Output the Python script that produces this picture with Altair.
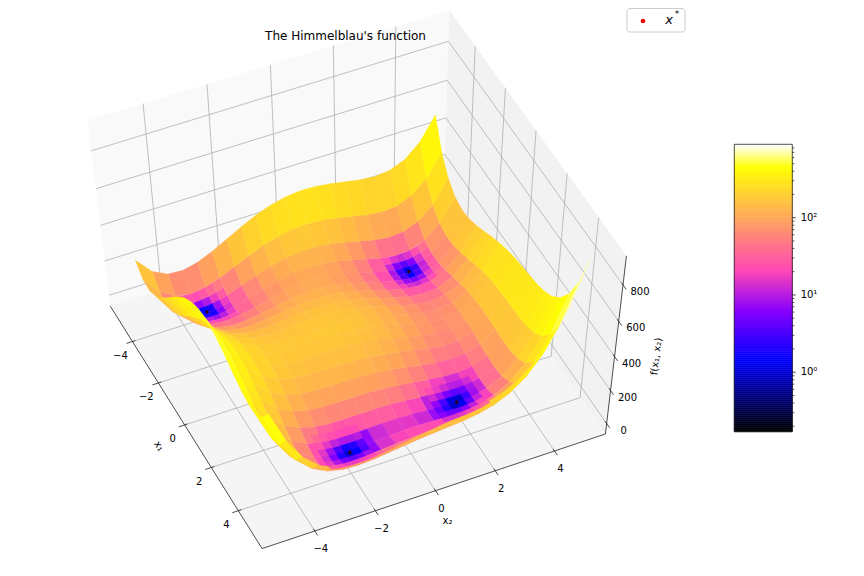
import numpy as np
import pandas as pd
import altair as alt

# ---------- values read for the surface (rows: x1 = -5..5, columns: x2 = -5..5, step 0.5)
grid_axis = [-5, -4.5, -4, -3.5, -3, -2.5, -2, -1.5, -1, -0.5, 0, 0.5, 1, 1.5, 2, 2.5, 3, 3.5, 4, 4.5, 5]
Z = [
 [250,158.3,116,110.3,130,165.3,208,251.3,290,320.3,340,348.3,346,335.3,320,305.3,298,306.3,340,410.3,530],
 [200.3,99.1,47.8,33.6,45.3,73.1,108.8,145.6,178.3,203.1,217.8,221.6,215.3,201.1,182.8,165.6,156.3,163.1,195.8,265.6,385.3],
 [196,85.8,26,3.8,8,28.8,58,88.8,116,135.8,146,145.8,136,118.8,98,78.8,68,73.8,106,175.8,296],
 [224.3,105.6,37.8,8.1,5.3,19.6,42.8,68.1,90.3,105.6,111.8,108.1,95.3,75.6,52.8,32.1,20.3,25.6,57.8,128.1,249.3],
 [274,147.3,72,35.3,26,34.3,52,72.3,90,101.3,104,97.3,82,60.3,36,14.3,2,7.3,40,111.3,234],
 [335.3,201.1,118.8,75.6,60.3,63.1,75.8,91.6,105.3,113.1,112.8,103.6,86.3,63.1,37.8,15.6,3.3,9.1,42.8,115.6,240.3],
 [400,258.8,170,120.8,100,97.8,106,117.8,128,132.8,130,118.8,100,75.8,50,27.8,16,22.8,58,132.8,260],
 [461.3,313.6,218.8,164.1,138.3,131.6,135.8,144.1,151.3,153.6,148.8,136.1,116.3,91.6,65.8,44.1,33.3,41.6,78.8,156.1,286.3],
 [514,360.3,260,200.3,170,159.3,160,165.3,170,170.3,164,150.3,130,105.3,80,59.3,50,60.3,100,180.3,314],
 [554.3,395.1,289.8,225.6,191.3,177.1,174.8,177.6,180.3,179.1,171.8,157.6,137.3,113.1,88.8,69.6,62.3,75.1,117.8,201.6,339.3],
 [580,415.8,306,237.8,200,182.8,178,178.8,180,177.8,170,155.8,136,112.8,90,72.8,68,83.8,130,217.8,360],
 [590.3,421.6,307.8,236.1,195.3,175.6,168.8,168.1,168.3,165.6,157.8,144.1,125.3,103.6,82.8,68.1,66.3,85.6,135.8,228.1,375.3],
 [586,413.3,296,221.3,178,156.3,148,146.3,146,143.3,136,123.3,106,86.3,68,56.3,58,81.3,136,233.3,386],
 [569.3,393.1,272.8,195.6,150.3,127.1,117.8,115.6,115.3,113.1,106.8,95.6,80.3,63.1,47.8,39.6,45.3,73.1,132.8,235.6,394.3],
 [544,364.8,242,162.8,116,91.8,82,79.8,80,78.8,74,64.8,52,37.8,26,21.8,32,64.8,130,238.8,404],
 [515.3,333.6,208.8,128.1,80.3,55.6,45.8,44.1,45.3,45.6,42.8,36.1,26.3,15.6,7.8,8.1,23.3,61.6,132.8,248.1,420.3],
 [490,306.3,180,98.3,50,25.3,16,15.3,18,20.3,20,16.3,10,3.3,0,5.3,26,70.3,148,270.3,450],
 [476.3,291.1,163.8,81.6,33.3,9.1,0.8,1.6,6.3,11.1,13.8,13.6,11.3,9.1,10.8,21.6,48.3,99.1,183.8,313.6,501.3],
 [484,297.8,170,87.8,40,16.8,10,12.8,20,27.8,34,37.8,40,42.8,50,66.8,100,157.8,250,387.8,584],
 [524.3,337.6,209.8,128.1,81.3,59.6,54.8,60.1,70.3,81.6,91.8,100.1,107.3,115.6,128.8,152.1,192.3,257.6,357.8,504.1,709.3],
 [610,423.3,296,215.3,170,150.3,148,156.3,170,185.3,200,213.3,226,240.3,260,290.3,338,411.3,520,675.3,890],
]

# finer readings round the four minima (step 0.25)
p1_x1 = [2.25, 2.5, 2.75, 3, 3.25, 3.5, 3.75]
p1_x2 = [1.25, 1.5, 1.75, 2, 2.25, 2.5, 2.75]
p1_z = [
 [32.1,25.9,20.4,16.1,13.7,14.1,18.1],
 [20.9,15.6,11.1,7.8,6.6,8.1,13.4],
 [12.0,7.8,4.3,2.1,2.1,4.9,11.4],
 [6.5,3.3,0.9,0,1.2,5.3,13.3],
 [5.4,3.4,2.2,2.5,5.0,10.5,19.9],
 [10.0,9.1,9.2,10.8,14.7,21.6,32.5],
 [21.4,21.8,23.2,26.2,31.5,39.9,52.4],
]
p2_x1 = [-3.5, -3.25, -3, -2.75, -2.5, -2.25, -2]
p2_x2 = [2.5, 2.75, 3, 3.25, 3.5, 3.75, 4]
p2_z = [
 [32.1,24.6,20.3,20.3,25.6,37.7,57.8],
 [20.3,12.6,8.1,8.0,13.4,25.5,45.8],
 [14.3,6.5,2,1.9,7.3,19.6,40],
 [13.1,5.3,0.8,0.7,6.3,18.7,39.4],
 [15.6,7.8,3.3,3.4,9.1,21.8,42.8],
 [20.8,13.0,8.7,8.9,14.9,28.0,49.3],
 [27.8,20.1,16,16.5,22.8,36.2,58],
]
p3_x1 = [-4.5, -4.25, -4, -3.75, -3.5, -3.25, -3]
p3_x2 = [-4, -3.75, -3.5, -3.25, -3, -2.75, -2.5]
p3_z = [
 [47.8,36.8,33.6,36.9,45.3,57.8,73.1],
 [31.9,18.9,13.7,15.0,21.6,32.2,45.8],
 [26,10.9,3.8,3.3,8,16.9,28.8],
 [28.4,11.4,2.4,0.1,3.1,10.3,20.6],
 [37.8,18.9,8.1,4,5.3,10.9,19.6],
 [52.8,32.1,19.5,13.7,13.4,17.4,24.6],
 [72,49.6,35.3,27.9,26,28.5,34.3],
]
p4_x1 = [2.75, 3, 3.25, 3.5, 3.75, 4, 4.25]
p4_x2 = [-2.75, -2.5, -2.25, -2, -1.75, -1.5, -1.25]
p4_z = [
 [49.3,39.3,33,29.6,28.3,28.4,29.2],
 [35.3,25.3,19.2,16,14.9,15.3,16.5],
 [24.7,14.9,8.9,6,5.3,6,7.6],
 [18.8,9.1,3.4,0.8,0.4,1.6,3.8],
 [18.7,9.3,3.9,1.7,1.8,3.4,6.1],
 [25.9,16.8,11.8,10,10.6,12.8,16.1],
 [41.8,33.1,28.5,27.2,28.3,31.2,35.2],
]

min_x1 = [3.0, -2.805, -3.779, 3.584]
min_x2 = [2.0, 3.131, -3.283, -1.848]
min_f = [0, 0, 0, 0]

ticks_xy = [-4, -2, 0, 2, 4]
ticks_z = [0, 200, 400, 600, 800]

cmap_t = [0, 0.25, 0.42, 0.5625, 0.75, 0.92, 1]
cmap_c = ["#000000", "#0000ff", "#8700ff", "#ff49b6", "#ffa857", "#ffff00", "#ffffff"]
VMIN, VMAX = 0.17, 890.0

# ---------- view: a 3D-to-picture projection fitted on points
L, ZMIN, ZMAX = 5.73, -65.0, 955.0
fit_world = [
    (-L, -L, ZMIN), (L, -L, ZMIN), (L, L, ZMIN), (L, L, ZMAX), (-L, L, ZMAX), (-L, -L, ZMAX),
    (-4, -L, ZMIN), (-2, -L, ZMIN), (0, -L, ZMIN), (2, -L, ZMIN), (4, -L, ZMIN),
    (L, -4, ZMIN), (L, -2, ZMIN), (L, 0, ZMIN), (L, 2, ZMIN), (L, 4, ZMIN),
    (-5, 5, 530), (5, 5, 890), (-5, -5, 250),
    (-2.805, 3.131, 0), (-3.779, -3.283, 0), (3, 2, 0), (3.584, -1.848, 0),
]
fit_pix = [
    (110, 306.7), (261, 548.3), (606.7, 432.7), (629.3, 249.3), (449, 9.3), (89, 117.7),
    (131.7, 342.3), (159, 383), (184, 425), (210, 467.7), (238.3, 510.7),
    (315, 530.7), (376, 510.5), (436, 491.7), (496, 470.7), (555, 450),
    (435, 115), (585.7, 270), (137, 262),
    (408.3, 272.3), (206.7, 312.3), (456, 401), (350, 451.7),
]
rows = []
for (a, b, c), (u, v) in zip(fit_world, fit_pix):
    W = [a / 5, b / 5, c / 500, 1]
    U, V = u / 500, v / 500
    rows.append(W + [0, 0, 0, 0] + [-U * w for w in W])
    rows.append([0, 0, 0, 0] + W + [-V * w for w in W])
P = np.linalg.svd(np.array(rows))[2][-1].reshape(3, 4)
if P[2, 3] < 0:
    P = -P


def proj(a, b, c):
    h = P @ np.array([a / 5, b / 5, c / 500, 1.0])
    return float(h[0] / h[2] * 500), float(h[1] / h[2] * 500), float(h[2])


# ---------- surface cells
def cells(xs, ys, zz, skip=None):
    out = []
    for i in range(len(xs) - 1):
        for j in range(len(ys) - 1):
            if skip and skip(xs[i], xs[i + 1], ys[j], ys[j + 1]):
                continue
            idx = [(i, j), (i + 1, j), (i + 1, j + 1), (i, j + 1)]
            pts = [proj(xs[a], ys[b], zz[a][b]) for a, b in idx]
            vals = [max(zz[a][b], VMIN) for a, b in idx]
            f = float(np.exp(np.mean(np.log(vals))))
            ring = [[round(p[0], 2), round(p[1], 2)] for p in pts]
            ring.append(ring[0])
            out.append((float(np.mean([p[2] for p in pts])), {
                "type": "Feature",
                "geometry": {"type": "Polygon", "coordinates": [ring]},
                "properties": {"f": round(f, 3)},
            }))
    return out


def inside(bx, by):
    return lambda a0, a1, b0, b1: a0 >= bx[0] and a1 <= bx[-1] and b0 >= by[0] and b1 <= by[-1]


def skip_main(a0, a1, b0, b1):
    return inside(p2_x1, p2_x2)(a0, a1, b0, b1) or inside(p3_x1, p3_x2)(a0, a1, b0, b1)


sorted_cells = cells(grid_axis, grid_axis, Z, skip_main) + cells(p2_x1, p2_x2, p2_z) + cells(p3_x1, p3_x2, p3_z)
sorted_cells.sort(key=lambda t: -t[0])
surface = [c[1] for c in sorted_cells]
surface += [c[1] for c in cells(p1_x1, p1_x2, p1_z)] + [c[1] for c in cells(p4_x1, p4_x2, p4_z)]


# ---------- box: panes, grid, axes
def pane(corners):
    ring = [[round(proj(*c)[0], 2), round(proj(*c)[1], 2)] for c in corners]
    ring.append(ring[0])
    return {"type": "Feature", "geometry": {"type": "Polygon", "coordinates": [ring]}, "properties": {}}


pane_specs = [
    ([(-L, -L, ZMIN), (-L, L, ZMIN), (-L, L, ZMAX), (-L, -L, ZMAX)], "#f9f9f9"),
    ([(-L, L, ZMIN), (L, L, ZMIN), (L, L, ZMAX), (-L, L, ZMAX)], "#f2f2f2"),
    ([(-L, -L, ZMIN), (L, -L, ZMIN), (L, L, ZMIN), (-L, L, ZMIN)], "#f5f5f5"),
]


def seg(a, b):
    p, q = proj(*a), proj(*b)
    return {"x": p[0], "y": p[1], "x2": q[0], "y2": q[1]}


grid_rows, axis_rows, labels = [], [], []
for t in ticks_xy:
    grid_rows += [seg((t, -L, ZMIN), (t, L, ZMIN)), seg((t, L, ZMIN), (t, L, ZMAX))]
    grid_rows += [seg((L, t, ZMIN), (-L, t, ZMIN)), seg((-L, t, ZMIN), (-L, t, ZMAX))]
    axis_rows += [seg((t, -L - 0.2, ZMIN), (t, -L + 0.1, ZMIN)), seg((L + 0.2, t, ZMIN), (L - 0.1, t, ZMIN))]
    txt = str(t).replace("-", "\u2212")
    p = proj(t, -L, ZMIN)
    labels.append({"x": p[0] - 12, "y": p[1] + 14, "t": txt})
    p = proj(L, t, ZMIN)
    labels.append({"x": p[0] + 6, "y": p[1] + 18, "t": txt})
for t in ticks_z:
    grid_rows += [seg((-L, -L, t), (-L, L, t)), seg((-L, L, t), (L, L, t))]
    axis_rows.append(seg((L + 0.2, L, t), (L - 0.1, L, t)))
    p = proj(L, L, t)
    labels.append({"x": p[0] + 17, "y": p[1] + 7, "t": str(t)})
axis_rows += [
    seg((-L, -L, ZMIN), (L, -L, ZMIN)),
    seg((L, -L, ZMIN), (L, L, ZMIN)),
    seg((L, L, ZMIN), (L, L, ZMAX)),
]
labels.append({"x": 447.5, "y": 520.5, "t": "x\u2082"})

# ---------- colour bar
CB_X0, CB_X1, CB_Y0, CB_Y1 = 734.3, 792.3, 431.7, 144.3


def cb_y(v):
    return float(CB_Y0 + (CB_Y1 - CB_Y0) * np.log(v / VMIN) / np.log(VMAX / VMIN))


levels = np.geomspace(VMIN, VMAX, 145)
cb_rows = [{"x": CB_X0, "x2": CB_X1, "y": cb_y(a), "y2": cb_y(b), "f": float(np.sqrt(a * b))}
           for a, b in zip(levels[:-1], levels[1:])]
cb_axis = [
    {"x": CB_X0, "x2": CB_X1, "y": CB_Y0, "y2": CB_Y0}, {"x": CB_X0, "x2": CB_X1, "y": CB_Y1, "y2": CB_Y1},
    {"x": CB_X0, "x2": CB_X0, "y": CB_Y0, "y2": CB_Y1}, {"x": CB_X1, "x2": CB_X1, "y": CB_Y0, "y2": CB_Y1},
]
for dec in [0.1, 1, 10, 100]:
    for m in range(1, 10):
        v = m * dec
        if VMIN <= v <= VMAX:
            ln = 3.5 if m == 1 else 2
            cb_axis.append({"x": CB_X1, "x2": CB_X1 + ln, "y": cb_y(v), "y2": cb_y(v)})
for v, t in [(1, "10\u2070"), (10, "10\u00b9"), (100, "10\u00b2")]:
    labels.append({"x": 809, "y": cb_y(v), "t": t})

min_rows = [{"x": proj(a, b, c)[0], "y": proj(a, b, c)[1]} for a, b, c in zip(min_x1, min_x2, min_f)]

# ---------- chart (scales are picture pixels)
sx = alt.Scale(domain=[8, 856], zero=False, nice=False)
sy = alt.Scale(domain=[568, 8], zero=False, nice=False)
X = alt.X("x:Q", scale=sx, axis=None)
Y = alt.Y("y:Q", scale=sy, axis=None)
color_scale = alt.Scale(
    type="log",
    domain=[float(VMIN * (VMAX / VMIN) ** t) for t in cmap_t],
    range=cmap_c,
    interpolate="rgb",
    clamp=True,
)
identity = dict(type="identity", scale=1, translate=[-8, -8])

pane_layers = [
    alt.Chart(alt.Data(values=[pane(c)])).mark_geoshape(strokeWidth=0, fill=col, stroke=col).project(**identity)
    for c, col in pane_specs
]
surf_layer = (
    alt.Chart(alt.Data(values=surface)).mark_geoshape(strokeWidth=0.4)
    .encode(
        fill=alt.Fill("properties.f:Q", scale=color_scale, legend=None),
        stroke=alt.Stroke("properties.f:Q", scale=color_scale, legend=None),
    ).project(**identity)
)


def rules(rows, color, width):
    return alt.Chart(pd.DataFrame(rows)).mark_rule(color=color, strokeWidth=width).encode(
        x=X, x2="x2:Q", y=Y, y2="y2:Q")


def text(rows, **kw):
    base = dict(font="DejaVu Sans", color="black", align="center", baseline="middle", fontSize=10)
    base.update(kw)
    return alt.Chart(pd.DataFrame(rows)).mark_text(**base).encode(x=X, y=Y, text="t:N")


cb_layer = alt.Chart(pd.DataFrame(cb_rows)).mark_rect(strokeWidth=0.7).encode(
    x=X, x2="x2:Q", y=Y, y2="y2:Q",
    fill=alt.Fill("f:Q", scale=color_scale, legend=None),
    stroke=alt.Stroke("f:Q", scale=color_scale, legend=None),
)

legend_box = alt.Chart(pd.DataFrame([{"x": 627, "x2": 685, "y": 8.5, "y2": 32}])).mark_rect(
    fill="white", stroke="#cccccc", strokeWidth=1, cornerRadius=3).encode(x=X, x2="x2:Q", y=Y, y2="y2:Q")
legend_pt = alt.Chart(pd.DataFrame([{"x": 643, "y": 21}])).mark_point(
    filled=True, color="#ff0000", size=22, opacity=1).encode(x=X, y=Y)
min_pts = alt.Chart(pd.DataFrame(min_rows)).mark_point(
    filled=True, color="#300010", size=12, opacity=1).encode(x=X, y=Y)

chart = alt.layer(
    *pane_layers,
    rules(grid_rows, "#b0b0b0", 0.8),
    rules(axis_rows, "#222222", 0.8),
    surf_layer,
    min_pts,
    cb_layer,
    rules(cb_axis, "#222222", 0.8),
    text(labels),
    text([{"x": 345.5, "y": 36, "t": "The Himmelblau's function"}], fontSize=12),
    text([{"x": 159, "y": 446, "t": "x\u2081"}], angle=58),
    text([{"x": 656.5, "y": 356.5, "t": "f(x\u2081, x\u2082)"}], angle=277),
    legend_box,
    legend_pt,
    text([{"x": 669, "y": 20, "t": "x"}], fontSize=13, fontStyle="italic"),
    text([{"x": 677, "y": 14, "t": "*"}], fontSize=9),
).properties(
    width=848, height=560, padding=0, autosize=alt.AutoSizeParams(type="none"), background="white"
).configure_view(stroke=None)

chart.save("out.html", embed_options={"renderer": "svg", "actions": False})
